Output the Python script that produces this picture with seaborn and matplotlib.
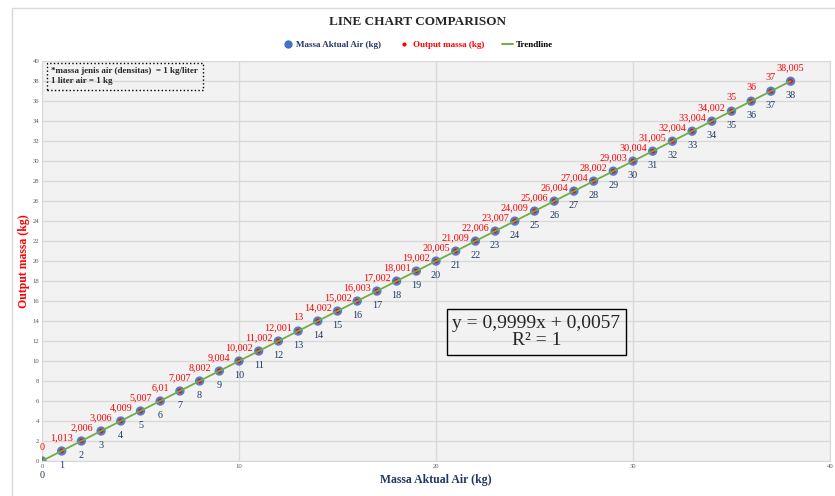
import matplotlib
matplotlib.use("Agg")
import matplotlib.pyplot as plt
import seaborn as sns
import pandas as pd
import numpy as np
from matplotlib.lines import Line2D
from matplotlib.patches import Rectangle

# data
massa_aktual = list(range(0, 39))
output_massa = [0, 1.013, 2.006, 3.006, 4.009, 5.007, 6.01, 7.007, 8.002, 9.004,
                10.002, 11.002, 12.001, 13, 14.002, 15.002, 16.003, 17.002, 18.001,
                19.002, 20.005, 21.009, 22.006, 23.007, 24.009, 25.006, 26.004,
                27.004, 28.002, 29.003, 30.004, 31.005, 32.004, 33.004, 34.002,
                35, 36, 37, 38.005]
x_ticks = [0, 10, 20, 30, 40]
y_ticks = list(range(0, 41, 2))

df = pd.DataFrame({'aktual': massa_aktual, 'output': output_massa})

BLUE = '#4472C4'
NAVY = '#1F3864'
RED = '#FF0000'
GREEN = '#70AD47'

sns.set_style("whitegrid", {'axes.facecolor': '#f2f2f2', 'grid.color': '#d9d9d9',
                            'axes.edgecolor': '#d9d9d9'})
plt.rcParams['font.family'] = ['Liberation Serif', 'DejaVu Serif']

fig = plt.figure(figsize=(8.35, 4.96), dpi=100)
ax = fig.add_axes([0.0503, 0.0706, 0.9437, 0.806])

# outer chart frame
fig.patches.append(Rectangle((12 / 835, -0.01), 1.0, 1.0 - 8 / 496 + 0.01,
                             transform=fig.transFigure, fill=False,
                             edgecolor='#d9d9d9', linewidth=1.0))

# markers: actual mass (blue), output mass (red), trendline (green)
sns.scatterplot(data=df, x='aktual', y='aktual', color=BLUE, s=45,
                edgecolor='none', alpha=0.9, ax=ax, zorder=3, legend=False)
sns.scatterplot(data=df, x='aktual', y='output', color=RED, s=11,
                edgecolor='none', ax=ax, zorder=4, legend=False)
sns.regplot(data=df, x='aktual', y='output', scatter=False, ci=None,
            truncate=True, color=GREEN, line_kws={'linewidth': 1.3, 'zorder': 5},
            ax=ax)

def fmt(v):
    s = ('%.3f' % v).rstrip('0').rstrip('.')
    return s.replace('.', ',')

for xa, yo in zip(massa_aktual, output_massa):
    ax.annotate(fmt(yo), (xa, yo), xytext=(0, 6.5), textcoords='offset points',
                ha='center', va='bottom', fontsize=7.3, color=RED)
    ax.annotate(str(xa), (xa, xa), xytext=(0, -7), textcoords='offset points',
                ha='center', va='top', fontsize=7.3, color=NAVY)

ax.set_xlim(0, 40)
ax.set_ylim(0, 40)
ax.set_xticks(x_ticks)
ax.set_yticks(y_ticks)
ax.tick_params(axis='both', labelsize=4.8, colors='#595959', pad=2, length=0)
ax.grid(True, color='#d9d9d9', linewidth=1.0)
for sp in ax.spines.values():
    sp.set_color('#d9d9d9')

ax.set_xlabel('Massa Aktual Air (kg)', fontsize=8.5, fontweight='bold',
              color=NAVY, labelpad=4)
ax.set_ylabel('Output massa (kg)', fontsize=8.5, fontweight='bold',
              color=RED, labelpad=2)

# note box
ax.text(0.012, 0.985, '*massa jenis air (densitas)  = 1 kg/liter\n1 liter air = 1 kg',
        transform=ax.transAxes, ha='left', va='top', fontsize=6.5,
        fontweight='bold', linespacing=1.3,
        bbox=dict(boxstyle='square,pad=0.5', facecolor='none',
                  edgecolor='black', linestyle=':', linewidth=1.0))

# trendline equation
ax.text(25.1, 12.9, 'y = 0,9999x + 0,0057\nR² = 1', ha='center', va='center',
        fontsize=14, linespacing=1.0,
        bbox=dict(boxstyle='square,pad=0.3', facecolor='none',
                  edgecolor='black', linewidth=1.0))

fig.text(0.5, 0.955, 'LINE CHART COMPARISON', ha='center', va='center',
         fontsize=9.5, fontweight='bold')

handles = [
    Line2D([0], [0], marker='o', color='none', markerfacecolor=BLUE,
           markeredgecolor='none', markersize=6),
    Line2D([0], [0], marker='o', color='none', markerfacecolor=RED,
           markeredgecolor='none', markersize=3),
    Line2D([0], [0], color=GREEN, linewidth=1.4),
]
leg = fig.legend(handles, ['Massa Aktual Air (kg)', 'Output massa (kg)', 'Trendline'],
                 loc='center', bbox_to_anchor=(0.5, 0.909), ncol=3, frameon=False,
                 prop={'size': 6.5, 'weight': 'bold'}, handlelength=1.2,
                 handletextpad=0.3, columnspacing=2.0)
for t, c in zip(leg.get_texts(), [NAVY, RED, 'black']):
    t.set_color(c)

fig.savefig('out.png', dpi=100)
